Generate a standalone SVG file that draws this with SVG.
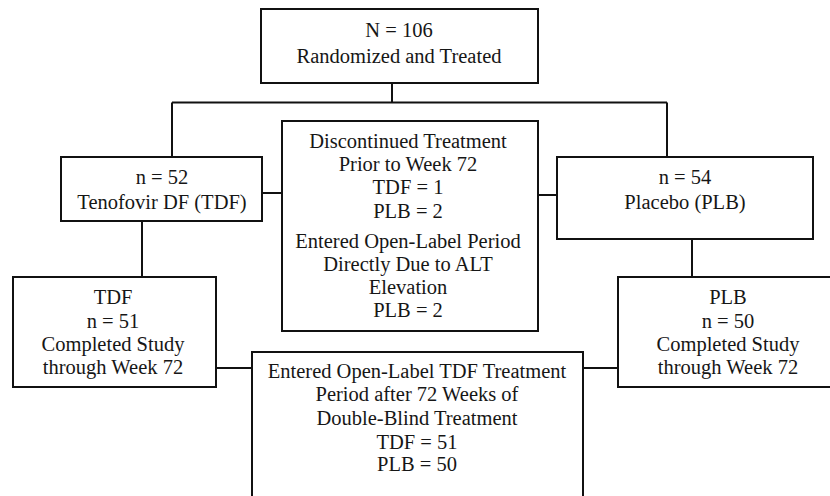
<svg xmlns="http://www.w3.org/2000/svg" width="830" height="496" viewBox="0 0 830 496">
  <style>
    .box { fill: #ffffff; stroke: #111111; stroke-width: 2; }
    .wire { fill: none; stroke: #111111; stroke-width: 2; }
    text { font-family: "Liberation Serif", "Times New Roman", serif; font-size: 20.5px; fill: #161616; text-anchor: middle; }
  </style>
  <rect width="830" height="496" fill="#ffffff"/>

  <!-- connectors -->
  <g id="connectors">
    <path class="wire" d="M392 83 V102.5"/>
    <path class="wire" d="M172 102.5 H667"/>
    <path class="wire" d="M172 102.5 V157"/>
    <path class="wire" d="M667 102.5 V157"/>
    <path class="wire" d="M262 193 H282"/>
    <path class="wire" d="M538 195 H557"/>
    <path class="wire" d="M142 221 V277"/>
    <path class="wire" d="M692 239 V277"/>
    <path class="wire" d="M216 368 H252"/>
    <path class="wire" d="M583 368 H618"/>
  </g>

  <!-- randomized population -->
  <g id="randomized">
    <rect class="box" x="261" y="9" width="277" height="74"/>
    <text x="399" y="37">N = 106</text>
    <text x="399" y="63">Randomized and Treated</text>
  </g>

  <!-- tenofovir arm -->
  <g id="tdf-arm">
    <rect class="box" x="61" y="157" width="201" height="64"/>
    <text x="162" y="184">n = 52</text>
    <text x="162" y="209">Tenofovir DF (TDF)</text>
  </g>

  <!-- discontinuations -->
  <g id="discontinued">
    <rect class="box" x="282" y="121" width="256" height="210"/>
    <text x="408" y="148">Discontinued Treatment</text>
    <text x="408" y="171">Prior to Week 72</text>
    <text x="408" y="194">TDF = 1</text>
    <text x="408" y="218">PLB = 2</text>
    <text x="408" y="248">Entered Open-Label Period</text>
    <text x="408" y="271">Directly Due to ALT</text>
    <text x="408" y="294">Elevation</text>
    <text x="408" y="317">PLB = 2</text>
  </g>

  <!-- placebo arm -->
  <g id="plb-arm">
    <rect class="box" x="557" y="157" width="256" height="82"/>
    <text x="685" y="184">n = 54</text>
    <text x="685" y="209">Placebo (PLB)</text>
  </g>

  <!-- tenofovir completers -->
  <g id="tdf-completed">
    <rect class="box" x="13" y="277" width="203" height="110"/>
    <text x="113" y="304">TDF</text>
    <text x="113" y="328">n = 51</text>
    <text x="113" y="351">Completed Study</text>
    <text x="113" y="374">through Week 72</text>
  </g>

  <!-- open-label period -->
  <g id="open-label">
    <rect class="box" x="252" y="352" width="331" height="160"/>
    <text x="417" y="378">Entered Open-Label TDF Treatment</text>
    <text x="417" y="401">Period after 72 Weeks of</text>
    <text x="417" y="425">Double-Blind Treatment</text>
    <text x="417" y="449">TDF = 51</text>
    <text x="417" y="471">PLB = 50</text>
  </g>

  <!-- placebo completers -->
  <g id="plb-completed">
    <rect class="box" x="618" y="277" width="220" height="110"/>
    <text x="728" y="304">PLB</text>
    <text x="728" y="328">n = 50</text>
    <text x="728" y="351">Completed Study</text>
    <text x="728" y="374">through Week 72</text>
  </g>
</svg>
